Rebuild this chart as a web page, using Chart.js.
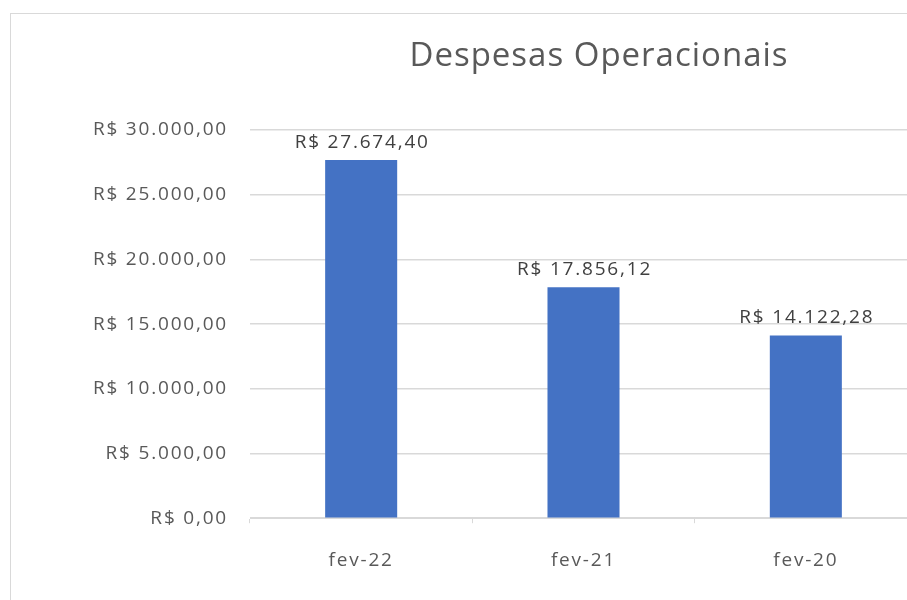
<!DOCTYPE html>
<html>
<head>
<meta charset="utf-8">
<script src="https://cdn.jsdelivr.net/npm/chart.js@4.4.1/dist/chart.umd.min.js"></script>
<style>
  html, body { margin: 0; padding: 0; background: #fff; overflow: hidden; width: 907px; height: 600px; }
  #frame { position: absolute; left: 10px; top: 13px; width: 1200px; height: 700px; border: 1px solid #d9d9d9; box-sizing: border-box; }
  #chart { position: absolute; left: 0; top: 0; }
</style>
</head>
<body>
<div id="frame"></div>
<canvas id="chart" width="1198" height="600"></canvas>
<script>
const chartTitle = "Despesas Operacionais";
const categories = ["fev-22", "fev-21", "fev-20"];
const despesas = [27674.40, 17856.12, 14122.28];
const yTicks = [0, 5000, 10000, 15000, 20000, 25000, 30000];

const brl = v => "R$ " + v.toLocaleString("pt-BR", { minimumFractionDigits: 2, maximumFractionDigits: 2 });

// Excel-like wide text: canvas letter spacing, set again whenever the context may be reset
const spacing = {
  id: "spacing",
  beforeUpdate(chart){ chart.ctx.letterSpacing = "1.8px"; },
  beforeDraw(chart){ chart.ctx.letterSpacing = "1.8px"; }
};

const titleAndLabels = {
  id: "titleAndLabels",
  afterDatasetsDraw(chart){
    const ctx = chart.ctx;
    const meta = chart.getDatasetMeta(0);
    ctx.save();
    ctx.letterSpacing = "1.8px";
    ctx.font = "19px 'Open Sans'";
    ctx.fillStyle = "#404040";
    ctx.textAlign = "center";
    ctx.textBaseline = "alphabetic";
    meta.data.forEach((bar, i) => {
      ctx.fillText(brl(chart.data.datasets[0].data[i]), bar.x + 1, bar.y - 12);
    });
    ctx.letterSpacing = "1px";
    ctx.font = "33px 'Open Sans'";
    ctx.fillStyle = "#595959";
    ctx.textBaseline = "middle";
    ctx.fillText(chartTitle, chart.width / 2, 57);
    ctx.restore();
  }
};

new Chart(document.getElementById("chart"), {
  type: "bar",
  data: {
    labels: categories,
    datasets: [{
      label: chartTitle,
      data: despesas,
      backgroundColor: "#4472C4",
      categoryPercentage: 1,
      barPercentage: 0.324
    }]
  },
  options: {
    responsive: false,
    animation: false,
    layout: { padding: { left: 0, right: 281, top: 130, bottom: 2 } },
    plugins: {
      legend: { display: false },
      tooltip: { enabled: false },
      title: { display: false }
    },
    scales: {
      x: {
        grid: { drawOnChartArea: false, drawTicks: true, tickLength: 5, color: "#d9d9d9" },
        border: { color: "#d9d9d9" },
        ticks: { color: "#595959", font: { family: "'Open Sans'", size: 19 }, padding: 26 }
      },
      y: {
        min: 0,
        max: 30000,
        afterBuildTicks(scale){ scale.ticks = yTicks.map(v => ({ value: v })); },
        afterFit(scale){ scale.width = 250; },
        grid: { drawTicks: false, color: "#d9d9d9", lineWidth: 1.5 },
        border: { display: false },
        ticks: {
          color: "#595959",
          font: { family: "'Open Sans'", size: 19 },
          padding: 22,
          callback: v => brl(v)
        }
      }
    }
  },
  plugins: [spacing, titleAndLabels]
});
</script>
</body>
</html>
